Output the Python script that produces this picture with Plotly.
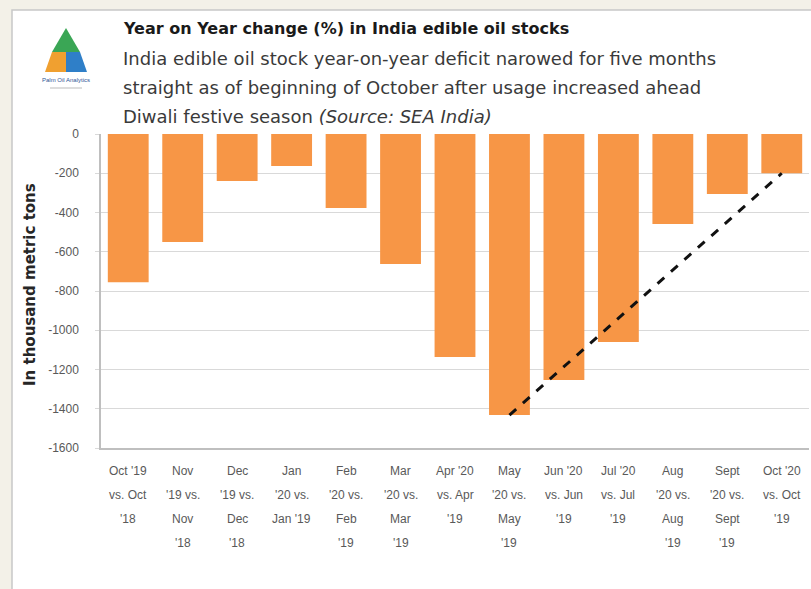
import plotly.graph_objects as go

# ---- data ----
tick_lines = [
    ["Oct '19", "vs. Oct", "'18"],
    ["Nov", "'19 vs.", "Nov", "'18"],
    ["Dec", "'19 vs.", "Dec", "'18"],
    ["Jan", "'20 vs.", "Jan '19"],
    ["Feb", "'20 vs.", "Feb", "'19"],
    ["Mar", "'20 vs.", "Mar", "'19"],
    ["Apr '20", "vs. Apr", "'19"],
    ["May", "'20 vs.", "May", "'19"],
    ["Jun '20", "vs. Jun", "'19"],
    ["Jul '20", "vs. Jul", "'19"],
    ["Aug", "'20 vs.", "Aug", "'19"],
    ["Sept", "'20 vs.", "Sept", "'19"],
    ["Oct '20", "vs. Oct", "'19"],
]
values = [-755, -550, -240, -163, -377, -662, -1136, -1432, -1253, -1060, -459, -306, -200]
trend_idx = [7, 12]
y_ticks = [0, -200, -400, -600, -800, -1000, -1200, -1400, -1600]

title = "Year on Year change (%) in India edible oil stocks"
subtitle = [
    "India edible oil stock year-on-year deficit narowed for five months",
    "straight as of beginning of October after usage increased ahead",
    "Diwali festive season <i>(Source: SEA India)</i>",
]
y_title = "In thousand metric tons"

W, H = 811, 589
L, R, T, B = 101, 809, 134, 448


def px(x):
    return (x - L) / (R - L)


def py(y):
    return (B - y) / (B - T)


x_idx = list(range(len(values)))
fig = go.Figure()
fig.add_trace(go.Bar(x=x_idx, y=values, marker=dict(color="#F79646", line=dict(width=0)),
                     width=0.75, hoverinfo="y"))
fig.add_trace(go.Scatter(x=trend_idx, y=[values[i] for i in trend_idx], mode="lines",
                         line=dict(color="#111111", width=3, dash="dash"), hoverinfo="skip"))

font_fam = "Liberation Sans, Arial, sans-serif"
head_fam = "DejaVu Sans, sans-serif"
ann = []
for i, lines in enumerate(tick_lines):
    for k, t in enumerate(lines):
        ann.append(dict(x=i, y=0, xref="x", yref="paper", text=t, showarrow=False,
                        xanchor="center", yanchor="middle", yshift=-23 - 24 * k,
                        font=dict(size=12, color="#595959", family=font_fam)))

ann.append(dict(x=px(121), y=py(28), xref="paper", yref="paper", text="<b>" + title + "</b>",
                showarrow=False, xanchor="left", yanchor="middle",
                font=dict(size=16, color="#1a1a1a", family=head_fam)))
for k, s in enumerate(subtitle):
    ann.append(dict(x=px(121), y=py(58 + 29.5 * k), xref="paper", yref="paper", text=s,
                    showarrow=False, xanchor="left", yanchor="middle",
                    font=dict(size=18, color="#3a3a3a", family=head_fam)))
ann.append(dict(x=px(30), y=py(285), xref="paper", yref="paper", text="<b>" + y_title + "</b>",
                showarrow=False, textangle=-90, xanchor="center", yanchor="middle",
                font=dict(size=15, color="#262626", family=head_fam)))
# logo text
ann.append(dict(x=px(66), y=py(80), xref="paper", yref="paper", text="Palm Oil Analytics",
                showarrow=False, xanchor="center", yanchor="middle",
                font=dict(size=6, color="#2f5597", family=font_fam)))

shapes = [
    dict(type="rect", xref="paper", yref="paper", x0=px(12), x1=px(830), y0=py(10), y1=py(600),
         fillcolor="white", line=dict(color="#c8c8c8", width=1.5), layer="below"),
    # logo pieces
    dict(type="path", xref="paper", yref="paper",
         path=f"M {px(66)},{py(28)} L {px(52)},{py(52)} L {px(80)},{py(52)} Z",
         fillcolor="#3aa655", line=dict(width=0)),
    dict(type="path", xref="paper", yref="paper",
         path=f"M {px(52)},{py(52)} L {px(45)},{py(72)} L {px(66)},{py(72)} L {px(66)},{py(52)} Z",
         fillcolor="#f0a030", line=dict(width=0)),
    dict(type="path", xref="paper", yref="paper",
         path=f"M {px(66)},{py(52)} L {px(66)},{py(72)} L {px(87)},{py(72)} L {px(80)},{py(52)} Z",
         fillcolor="#2f7fc8", line=dict(width=0)),
    dict(type="line", xref="paper", yref="paper", x0=px(50), x1=px(82), y0=py(88), y1=py(88),
         line=dict(color="#bbbbbb", width=1)),
]

fig.update_layout(
    width=W, height=H,
    margin=dict(l=L, r=W - R, t=T, b=H - B, pad=0),
    paper_bgcolor="#f3f1e8", plot_bgcolor="white",
    showlegend=False, bargap=0.25,
    annotations=ann, shapes=shapes,
    font=dict(family=font_fam),
)
fig.update_xaxes(range=[-0.5, len(values) - 0.5], showticklabels=False, showgrid=False,
                 zeroline=False, showline=True, linecolor="#bfbfbf", linewidth=1.5, ticks="")
fig.update_yaxes(range=[-1600, 0], tickvals=y_ticks, ticktext=[str(v) for v in y_ticks],
                 showgrid=True, gridcolor="#d9d9d9", gridwidth=1, zeroline=False,
                 showline=True, linecolor="#bfbfbf", linewidth=1.5,
                 ticks="outside", ticklen=4, tickcolor="#d9d9d9", ticklabelstandoff=14,
                 tickfont=dict(size=12, color="#595959", family=font_fam))

fig.write_html("out.html", config={"displayModeBar": False},
               post_script="document.body.style.margin='0';document.body.style.background='#f3f1e8';")
